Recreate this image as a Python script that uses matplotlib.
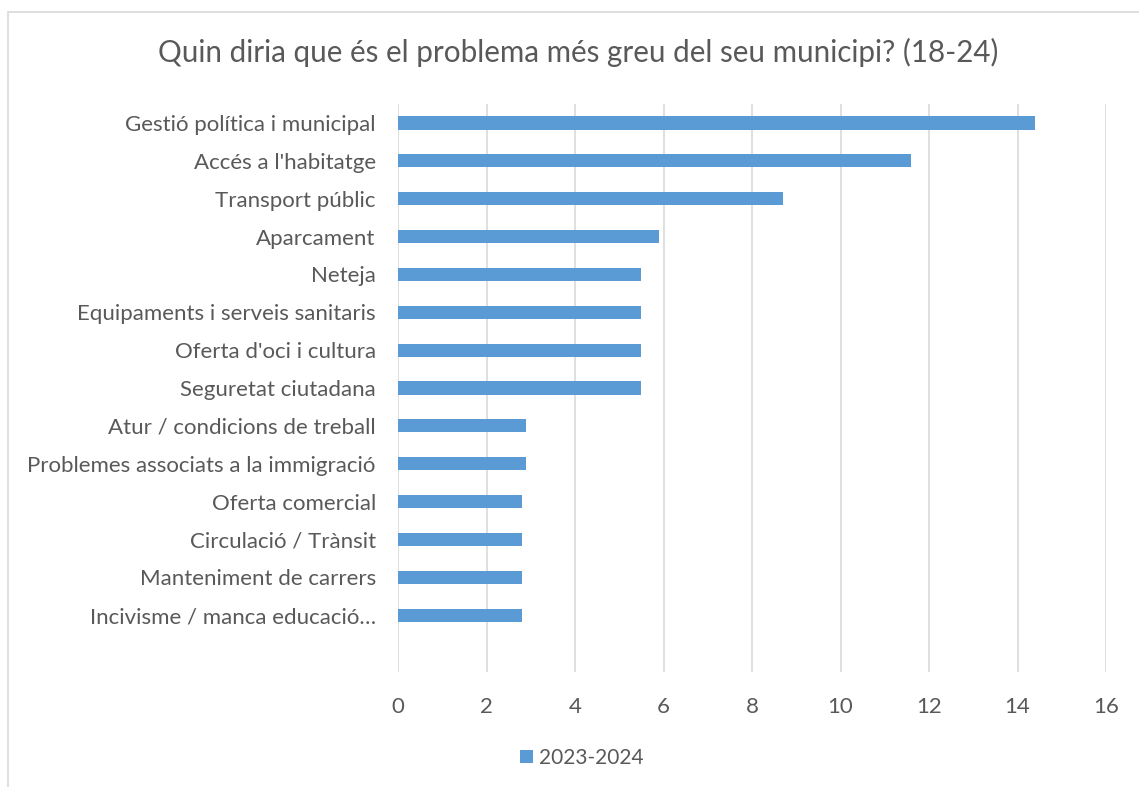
import matplotlib.pyplot as plt
import numpy as np

plt.rcParams['font.family'] = ['Lato', 'DejaVu Sans']

# Data
categories = [
    "Gestió política i municipal",
    "Accés a l'habitatge",
    "Transport públic",
    "Aparcament",
    "Neteja",
    "Equipaments i serveis sanitaris",
    "Oferta d'oci i cultura",
    "Seguretat ciutadana",
    "Atur / condicions de treball",
    "Problemes associats a la immigració",
    "Oferta comercial",
    "Circulació / Trànsit",
    "Manteniment de carrers",
    "Incivisme / manca educació…",
]
values_2023_2024 = [14.4, 11.6, 8.7, 5.9, 5.5, 5.5, 5.5, 5.5, 2.9, 2.9, 2.8, 2.8, 2.8, 2.8]
series_name = "2023-2024"
x_ticks = [0, 2, 4, 6, 8, 10, 12, 14, 16]

bar_color = '#5B9BD5'
text_color = '#595959'
grid_color = '#D9D9D9'

fig = plt.figure(figsize=(11.39, 7.87), dpi=100)

# outer chart border (Excel style)
fig.patches.append(plt.Rectangle((8 / 1139, -0.01), 1.02, 1 - 12 / 787 + 0.01,
                                 transform=fig.transFigure, fill=False,
                                 edgecolor='#D9D9D9', linewidth=1.2))

ax = fig.add_axes([398 / 1139, 1 - 672 / 787, (1106 - 398) / 1139, (672 - 104) / 787])

y = np.arange(len(categories))
ax.barh(y, values_2023_2024, height=0.35, color=bar_color, label=series_name, zorder=3)

ax.set_ylim(len(categories) + 0.5, -0.5)
ax.set_xlim(0, 16)
ax.set_xticks(x_ticks)
ax.set_xticklabels([str(t) for t in x_ticks])
ax.set_yticks(y)
ax.set_yticklabels(categories)

ax.grid(axis='x', color=grid_color, linewidth=1.2, zorder=0)
for s in ax.spines.values():
    s.set_visible(False)
ax.tick_params(axis='both', length=0, colors=text_color, labelsize=16)
ax.tick_params(axis='y', pad=16)
ax.tick_params(axis='x', pad=18)

fig.text(0.508, 1 - 52 / 787, "Quin diria que és el problema més greu del seu municipi? (18-24)",
         ha='center', va='center', fontsize=21.3, color=text_color)

fig.legend(loc='center', bbox_to_anchor=(582 / 1139, 1 - 758 / 787), frameon=False,
           fontsize=15, labelcolor=text_color, handlelength=0.6, handleheight=0.6,
           handletextpad=0.3)

fig.savefig('out.png', dpi=100)
